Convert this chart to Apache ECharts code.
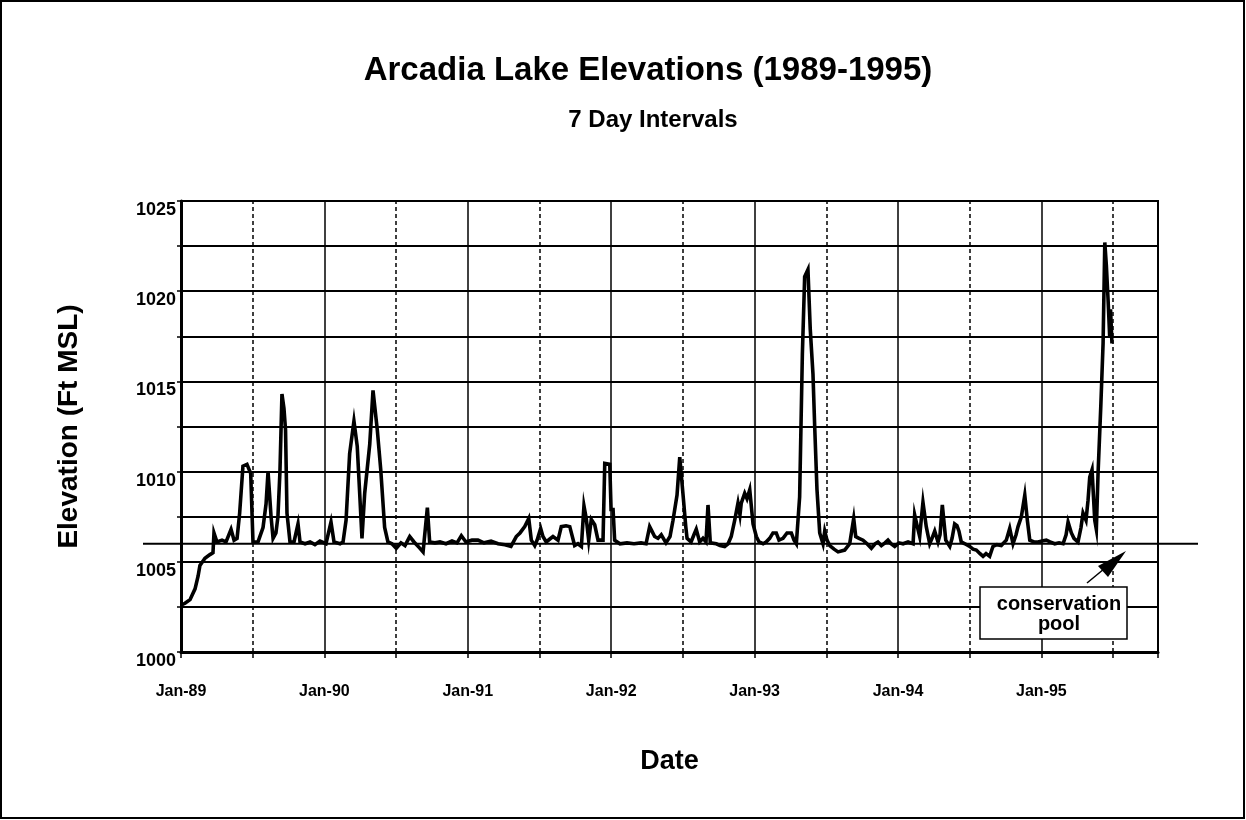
<!DOCTYPE html>
<html>
<head>
<meta charset="utf-8">
<title>Arcadia Lake Elevations</title>
<script src="https://cdn.jsdelivr.net/npm/echarts@6/dist/echarts.min.js"></script>
<style>
  html, body { margin: 0; padding: 0; background: #fff; }
  #chart { width: 1246px; height: 820px; }
</style>
</head>
<body>
<div id="chart"></div>
<script>
  // date as decimal year, elevation in ft MSL
  const dates = [
    1989.000, 1989.028, 1989.063, 1989.098, 1989.119, 1989.132, 1989.167, 1989.202, 1989.223, 1989.230,
    1989.251, 1989.286, 1989.314, 1989.349, 1989.370, 1989.391, 1989.409, 1989.432, 1989.460, 1989.486,
    1989.502, 1989.537, 1989.572, 1989.593, 1989.607, 1989.628, 1989.642, 1989.662, 1989.676, 1989.690,
    1989.704, 1989.718, 1989.729, 1989.739, 1989.760, 1989.788, 1989.816, 1989.830, 1989.865, 1989.900,
    1989.934, 1989.969, 1990.011, 1990.046, 1990.067, 1990.109, 1990.130, 1990.151, 1990.176, 1990.206,
    1990.229, 1990.246, 1990.262, 1990.281, 1990.316, 1990.339, 1990.369, 1990.393, 1990.420, 1990.443,
    1990.471, 1990.501, 1990.534, 1990.562, 1990.595, 1990.625, 1990.660, 1990.688, 1990.718, 1990.734,
    1990.771, 1990.806, 1990.848, 1990.890, 1990.925, 1990.955, 1990.987, 1991.029, 1991.071, 1991.113,
    1991.162, 1991.211, 1991.259, 1991.301, 1991.338, 1991.364, 1991.397, 1991.425, 1991.443, 1991.467,
    1991.483, 1991.508, 1991.524, 1991.547, 1991.570, 1991.594, 1991.629, 1991.652, 1991.685, 1991.711,
    1991.745, 1991.768, 1991.792, 1991.810, 1991.826, 1991.843, 1991.861, 1991.885, 1991.908, 1991.943,
    1991.955, 1991.990, 1991.999, 1992.013, 1992.024, 1992.061, 1992.110, 1992.159, 1992.208, 1992.243,
    1992.268, 1992.284, 1992.303, 1992.326, 1992.349, 1992.382, 1992.410, 1992.431, 1992.459, 1992.478,
    1992.489, 1992.506, 1992.520, 1992.529, 1992.557, 1992.577, 1992.593, 1992.617, 1992.640, 1992.661,
    1992.675, 1992.691, 1992.733, 1992.759, 1992.791, 1992.815, 1992.837, 1992.861, 1992.884, 1992.898,
    1992.907, 1992.931, 1992.947, 1992.966, 1992.989, 1993.012, 1993.031, 1993.059, 1993.080, 1993.105,
    1993.128, 1993.151, 1993.170, 1993.198, 1993.226, 1993.256, 1993.275, 1993.291, 1993.314, 1993.333,
    1993.349, 1993.372, 1993.388, 1993.407, 1993.419, 1993.435, 1993.454, 1993.477, 1993.489, 1993.505,
    1993.524, 1993.554, 1993.582, 1993.628, 1993.663, 1993.691, 1993.705, 1993.728, 1993.756, 1993.784,
    1993.814, 1993.840, 1993.860, 1993.884, 1993.909, 1993.930, 1993.951, 1993.977, 1994.007, 1994.035,
    1994.070, 1994.105, 1994.116, 1994.133, 1994.151, 1994.164, 1994.174, 1994.197, 1994.221, 1994.237,
    1994.256, 1994.279, 1994.293, 1994.309, 1994.333, 1994.361, 1994.377, 1994.395, 1994.411, 1994.425,
    1994.441, 1994.467, 1994.500, 1994.523, 1994.546, 1994.572, 1994.593, 1994.614, 1994.639, 1994.662,
    1994.690, 1994.720, 1994.755, 1994.779, 1994.802, 1994.823, 1994.837, 1994.860, 1994.884, 1994.902,
    1994.919, 1994.948, 1994.976, 1995.004, 1995.034, 1995.060, 1995.093, 1995.123, 1995.151, 1995.172,
    1995.186, 1995.209, 1995.227, 1995.255, 1995.276, 1995.290, 1995.311, 1995.325, 1995.337, 1995.353,
    1995.372, 1995.383, 1995.395, 1995.414, 1995.430, 1995.442, 1995.453, 1995.465, 1995.476, 1995.482,
    1995.492
  ];
  const elevations = [
    1002.6, 1002.7, 1002.9, 1003.5, 1004.2, 1004.8, 1005.2, 1005.4, 1005.5, 1006.6,
    1006.1, 1006.2, 1006.1, 1006.8, 1006.2, 1006.3, 1007.7, 1010.3, 1010.4, 1009.9,
    1006.1, 1006.1, 1006.9, 1008.2, 1010.0, 1007.5, 1006.3, 1006.6, 1007.5, 1010.0,
    1014.3, 1013.5, 1012.3, 1007.7, 1006.1, 1006.1, 1007.1, 1006.1, 1006.0, 1006.1,
    1005.95, 1006.15, 1006.0, 1007.2, 1006.1, 1006.0, 1006.1, 1007.3, 1011.0, 1012.8,
    1011.4, 1008.8, 1006.3, 1008.8, 1011.5, 1014.5, 1012.3, 1010.1, 1006.9, 1006.1,
    1006.0, 1005.75, 1006.05, 1005.9, 1006.4, 1006.1, 1005.8, 1005.55, 1008.0, 1006.1,
    1006.05, 1006.1, 1006.0, 1006.15, 1006.05, 1006.45, 1006.1, 1006.2, 1006.2, 1006.05,
    1006.15, 1006.0, 1005.95, 1005.85, 1006.4, 1006.6, 1006.95, 1007.4, 1006.2, 1005.9,
    1006.2, 1006.85, 1006.4, 1006.1, 1006.25, 1006.4, 1006.2, 1006.95, 1007.0, 1006.95,
    1005.9, 1006.0, 1005.85, 1008.1, 1007.4, 1006.2, 1007.35, 1007.05, 1006.2, 1006.2,
    1010.45, 1010.4, 1007.9, 1007.9, 1006.2, 1006.0, 1006.05, 1006.0, 1006.05, 1006.0,
    1006.95, 1006.7, 1006.4, 1006.3, 1006.5, 1006.05, 1006.4, 1007.3, 1008.7, 1010.8,
    1010.9, 1008.25, 1006.95, 1006.3, 1006.1, 1006.5, 1006.8, 1006.1, 1006.3, 1006.1,
    1008.15, 1006.05, 1006.0, 1005.9, 1005.85, 1006.0, 1006.4, 1007.3, 1008.25, 1007.6,
    1008.25, 1008.8, 1008.5, 1009.0, 1007.1, 1006.4, 1006.1, 1006.0, 1006.1, 1006.3,
    1006.6, 1006.6, 1006.2, 1006.3, 1006.6, 1006.6, 1006.2, 1006.0, 1008.6, 1016.5,
    1020.8, 1021.2, 1017.9, 1015.4, 1012.5, 1009.0, 1006.6, 1006.0, 1006.7, 1006.2,
    1005.9, 1005.7, 1005.55, 1005.65, 1006.0, 1007.4, 1006.4, 1006.3, 1006.2, 1006.0,
    1005.75, 1006.0, 1006.1, 1005.9, 1006.05, 1006.2, 1006.0, 1005.85, 1006.05, 1006.0,
    1006.1, 1006.0, 1007.6, 1007.0, 1006.4, 1007.5, 1008.3, 1006.95, 1006.0, 1006.3,
    1006.7, 1006.1, 1006.5, 1008.15, 1006.2, 1005.85, 1006.3, 1007.1, 1007.0, 1006.7,
    1006.1, 1006.0, 1005.85, 1005.7, 1005.65, 1005.45, 1005.3, 1005.45, 1005.3, 1005.85,
    1005.95, 1005.9, 1006.2, 1006.85, 1006.0, 1006.5, 1006.95, 1007.5, 1008.7, 1007.3,
    1006.2, 1006.1, 1006.1, 1006.15, 1006.2, 1006.1, 1006.0, 1006.05, 1006.0, 1006.5,
    1007.2, 1006.6, 1006.3, 1006.1, 1006.9, 1007.7, 1007.3, 1008.4, 1009.7, 1010.1,
    1007.3, 1006.8, 1009.9, 1013.6, 1017.1, 1022.7, 1021.4, 1019.5, 1017.5, 1019.0,
    1017.1
  ];
  const janLines = [1990, 1991, 1992, 1993, 1994, 1995];
  const julLines = [1989.5, 1990.5, 1991.5, 1992.5, 1993.5, 1994.5, 1995.5];
  const poolLevel = 1006;

  const chart = echarts.init(document.getElementById('chart'));
  const font = '"Liberation Sans", Arial, sans-serif';

  let seriesData = [];
  for (let i = 0; i < dates.length; i++) {
    seriesData.push([dates[i], elevations[i]]);
  }

  let gridMarks = [];
  for (let i = 0; i < janLines.length; i++) {
    gridMarks.push({ xAxis: janLines[i], lineStyle: { type: 'solid', width: 1.5 } });
  }
  for (let i = 0; i < julLines.length; i++) {
    gridMarks.push({ xAxis: julLines[i], lineStyle: { type: [4, 3], width: 1.5 } });
  }

  let option = {
    backgroundColor: '#fff',
    animation: false,
    title: [
      {
        text: 'Arcadia Lake Elevations (1989-1995)',
        left: 643, top: 49, textAlign: 'center',
        textStyle: { fontFamily: font, fontSize: 33, fontWeight: 'bold', color: '#000' }
      },
      {
        text: '7 Day Intervals',
        left: 648, top: 103, textAlign: 'center',
        textStyle: { fontFamily: font, fontSize: 24, fontWeight: 'bold', color: '#000' }
      }
    ],
    grid: {
      left: 181, right: 88, top: 201, bottom: 168,
      show: true, borderColor: '#000', borderWidth: 2
    },
    xAxis: {
      type: 'value',
      min: 1989, max: 1995.813, interval: 0.5,
      name: 'Date', nameLocation: 'middle', nameGap: 96,
      nameTextStyle: { fontFamily: font, fontSize: 27, fontWeight: 'bold', color: '#000' },
      axisLine: { lineStyle: { color: '#000', width: 3 } },
      axisTick: { show: true, length: 6, lineStyle: { color: '#000', width: 1.5 } },
      splitLine: { show: false },
      axisLabel: {
        margin: 32, color: '#000', fontFamily: font, fontSize: 16, fontWeight: 'bold',
        formatter: function (v) {
          if (Math.abs(v - Math.round(v)) > 1e-6) return '';
          return 'Jan-' + String(Math.round(v)).slice(2);
        }
      }
    },
    yAxis: {
      type: 'value',
      min: 1000, max: 1025, interval: 2.5,
      name: 'Elevation (Ft MSL)', nameLocation: 'middle', nameGap: 98, nameRotate: 90,
      nameTextStyle: { fontFamily: font, fontSize: 28, fontWeight: 'bold', color: '#000' },
      axisLine: { show: true, lineStyle: { color: '#000', width: 3 } },
      axisTick: { show: true, length: 4, lineStyle: { color: '#000', width: 1.5 } },
      splitLine: { show: true, lineStyle: { color: '#000', width: 1.8 } },
      axisLabel: {
        margin: 5, color: '#000', fontFamily: font, fontSize: 18, fontWeight: 'bold',
        verticalAlign: 'top',
        formatter: function (v) {
          return v % 5 === 0 ? String(v) : '';
        }
      }
    },
    series: [
      {
        name: 'grid',
        type: 'line',
        data: [],
        z: 1,
        silent: true,
        markLine: {
          silent: true,
          symbol: 'none',
          label: { show: false },
          lineStyle: { color: '#000' },
          data: gridMarks
        }
      },
      {
        name: 'Elevation',
        type: 'line',
        z: 5,
        showSymbol: false,
        data: seriesData,
        lineStyle: { color: '#000', width: 3.6, join: 'miter' }
      }
    ]
  };

  chart.setOption(option);

  // conservation pool line runs past the plot on both sides
  const poolY = chart.convertToPixel({ yAxisIndex: 0 }, poolLevel);
  const gl = 181, gr = 1246 - 88;
  chart.setOption({
    graphic: [
      {
        type: 'rect', silent: true, z: 0,
        shape: { x: 1, y: 1, width: 1243, height: 817 },
        style: { fill: 'none', stroke: '#000', lineWidth: 2 }
      },
      {
        type: 'line', silent: true, z: 10,
        shape: { x1: gl - 38, y1: poolY, x2: gr + 40, y2: poolY },
        style: { stroke: '#000', lineWidth: 2 }
      },
      {
        type: 'rect', silent: true, z: 10,
        shape: { x: 980, y: 587, width: 147, height: 52 },
        style: { fill: '#fff', stroke: '#000', lineWidth: 1.5 }
      },
      {
        type: 'text', silent: true, z: 11,
        x: 1059, y: 594,
        style: {
          text: 'conservation\npool', align: 'center', verticalAlign: 'top',
          font: 'bold 20px ' + font, fill: '#000', lineHeight: 20
        }
      },
      {
        type: 'line', silent: true, z: 10,
        shape: { x1: 1087, y1: 583, x2: 1110, y2: 564 },
        style: { stroke: '#000', lineWidth: 1.5 }
      },
      {
        type: 'polygon', silent: true, z: 10,
        shape: { points: [[1126, 551], [1098, 566], [1108, 577]] },
        style: { fill: '#000' }
      }
    ]
  });

  window.addEventListener('resize', function () {
    chart.resize();
  });
</script>
</body>
</html>
